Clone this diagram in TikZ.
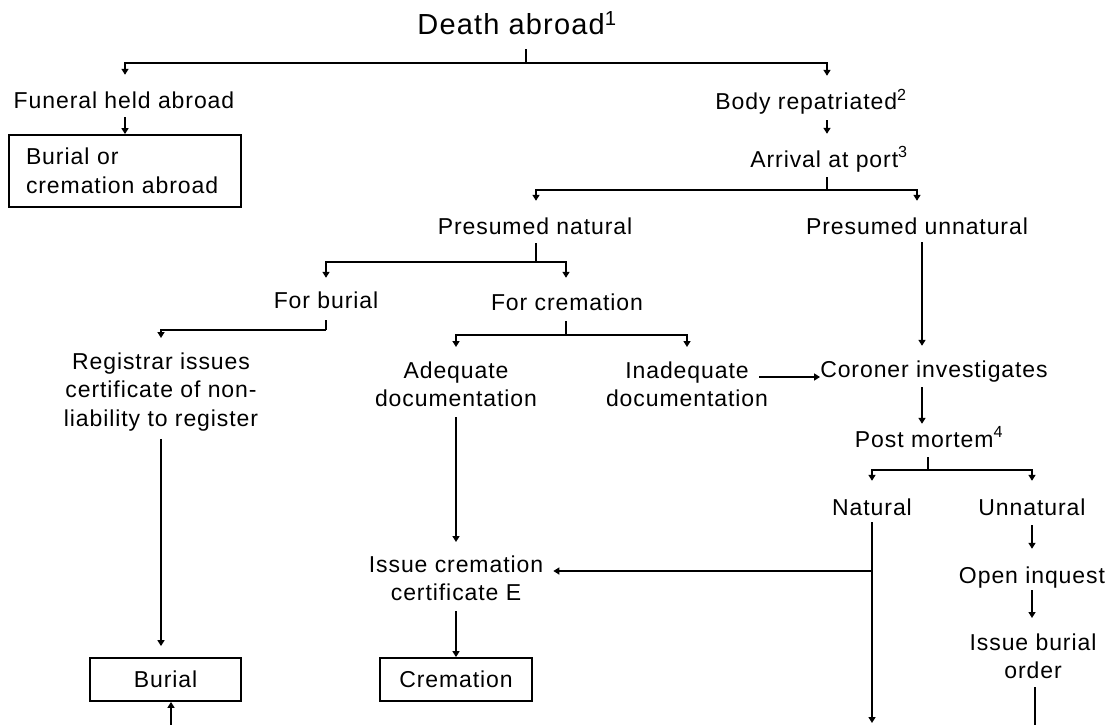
\documentclass[tikz,border=0pt]{standalone}
\usepackage{fontspec}
\setmainfont{Liberation Sans}[LetterSpace=4]
\usetikzlibrary{arrows.meta}
\newcommand\dgfont{\fontsize{23}{28.5}\selectfont}
\newcommand\dgtitlefont{\fontsize{29}{33}\selectfont}
\begin{document}
\begin{tikzpicture}[x=1pt,y=-1pt,
  lbl/.style={inner sep=0pt, text height=16.5pt, text depth=0pt, anchor=base, font=\dgfont},
  mlbl/.style={inner sep=0pt, align=center, anchor=north, font=\dgfont},
  endbox/.style={draw, line width=1.8pt, inner sep=0pt, font=\dgfont},
  conn/.style={line width=2.2pt},
  conarr/.style={conn, -{Triangle[length=6pt,width=7pt]}}]

\fill[white] (0,0) rectangle (1109,725);
\useasboundingbox (0,0) rectangle (1109,725);

% ---- nodes ----
\node[lbl, font=\dgtitlefont, text height=21pt] (death) at (517,35) {Death abroad\textsuperscript{1}};
\node[lbl] (fha)  at (124,109) {Funeral held abroad};
\node[endbox, minimum width=232pt, minimum height=72pt, text width=198pt, align=left]
      (abroad) at (125,171) {Burial or\\cremation abroad};
\node[lbl] (body) at (811,110) {Body repatriated\textsuperscript{2}};
\node[lbl] (port) at (829,167) {Arrival at port\textsuperscript{3}};
\node[lbl] (pnat) at (535,234) {Presumed natural};
\node[lbl] (punn) at (917,234) {Presumed unnatural};
\node[lbl] (fbur) at (326,308) {For burial};
\node[lbl] (fcre) at (567,310) {For cremation};
\node[mlbl] (reg)  at (161,352.5) {Registrar issues\\certificate of non-\\liability to register};
\node[mlbl] (adeq) at (456,361.5) {Adequate\\documentation};
\node[mlbl] (inad) at (687,361.5) {Inadequate\\documentation};
\node[lbl] (coro) at (934,377) {Coroner investigates};
\node[lbl] (pm)   at (929,447) {Post mortem\textsuperscript{4}};
\node[lbl] (nat)  at (872,515) {Natural};
\node[lbl] (unn)  at (1032,515) {Unnatural};
\node[lbl] (oi)   at (1032,583) {Open inquest};
\node[mlbl] (ibo) at (1033,633.5) {Issue burial\\order};
\node[mlbl] (ice) at (456,555.5) {Issue cremation\\certificate E};
\node[endbox, minimum width=151pt, minimum height=43pt] (burial) at (165.5,679.5) {Burial};
\node[endbox, minimum width=152pt, minimum height=43pt] (crem) at (456,679.5) {Cremation};

% ---- junctions and open ends ----
\coordinate (j0) at (526,63);
\coordinate (j1) at (827,190);
\coordinate (j2) at (536,262);
\coordinate (j3) at (326,330);
\coordinate (j4) at (566,335);
\coordinate (j5) at (928,470);
\coordinate (j6) at (872,571);
\coordinate (natEnd) at (872,723);
\coordinate (iboEnd) at (1035,728);
\coordinate (burStart) at (171,728);

% ---- connectors ----
\draw[conn] ([xshift=9pt,yshift=-14pt]death.south) -- (j0);
\draw[conarr] (j0) -| ([xshift=1pt,yshift=17.5pt]fha.north);
\draw[conarr] (j0) -| ([xshift=16pt,yshift=17.5pt]body.north);
\draw[conarr] ([xshift=1pt,yshift=-8pt]fha.south) -- (abroad.north);
\draw[conarr] ([xshift=16pt,yshift=-10pt]body.south) -- ([xshift=-2pt,yshift=16.5pt]port.north);

\draw[conn] ([xshift=-2pt,yshift=-10pt]port.south) -- (j1);
\draw[conarr] (j1) -| ([xshift=1pt,yshift=16.5pt]pnat.north);
\draw[conarr] (j1) -| ([yshift=16.5pt]punn.north);

\draw[conn] ([xshift=1pt,yshift=-9pt]pnat.south) -- (j2);
\draw[conarr] (j2) -| ([yshift=13.5pt]fbur.north);
\draw[conarr] (j2) -| ([xshift=-1pt,yshift=15.5pt]fcre.north);

\draw[conn] ([yshift=-12pt]fbur.south) -- (j3);
\draw[conarr] (j3) -| ([yshift=14.5pt]reg.north);

\draw[conn] ([xshift=-1pt,yshift=-11pt]fcre.south) -- (j4);
\draw[conarr] (j4) -| ([yshift=14.5pt]adeq.north);
\draw[conarr] (j4) -| ([yshift=14.5pt]inad.north);

\draw[conarr] ([xshift=-9pt]inad.east |- coro.base) -- (coro.base west);
\draw[conarr] ([xshift=5pt,yshift=-8pt]punn.south) -- ([xshift=-12pt,yshift=14.5pt]coro.north);
\draw[conarr] ([xshift=-12pt,yshift=-10pt]coro.south) -- ([xshift=-7pt,yshift=6.5pt]pm.north);

\draw[conn] ([xshift=-1pt,yshift=-10pt]pm.south) -- (j5);
\draw[conarr] (j5) -| ([yshift=17.5pt]nat.north);
\draw[conarr] (j5) -| ([yshift=17.5pt]unn.north);

\draw[conarr] ([yshift=-7pt]nat.south) -- (natEnd);
\draw[conarr] (j6) -- ([xshift=10pt]ice.east |- j6);

\draw[conarr] ([yshift=-10pt]unn.south) -- ([yshift=17.5pt]oi.north);
\draw[conarr] ([yshift=-7pt]oi.south) -- ([xshift=-1pt,yshift=15.5pt]ibo.north);
\draw[conn] ([xshift=2pt,yshift=-8pt]ibo.south) -- (iboEnd);

\draw[conarr] ([yshift=-10pt]adeq.south) -- ([yshift=13.5pt]ice.north);
\draw[conarr] ([yshift=-10pt]ice.south) -- (crem.north);

\draw[conarr] ([yshift=-7.5pt]reg.south) -- ([xshift=-4.5pt,yshift=11pt]burial.north);
\draw[conarr] (burStart) -- ([xshift=5.5pt]burial.south);
\end{tikzpicture}
\end{document}
